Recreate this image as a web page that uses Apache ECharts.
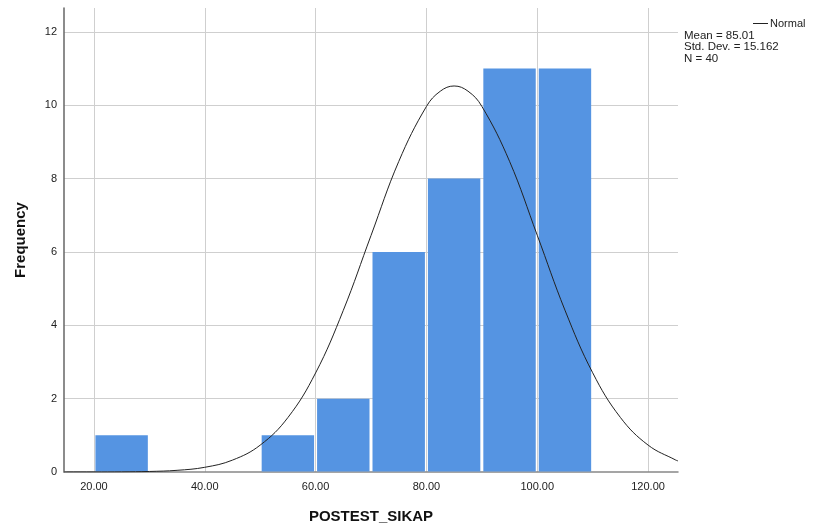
<!DOCTYPE html>
<html>
<head>
<meta charset="utf-8">
<script src="https://cdn.jsdelivr.net/npm/echarts@6/dist/echarts.min.js"></script>
<style>
html,body{margin:0;padding:0;background:#fff;}
#c{width:816px;height:529px;}
</style>
</head>
<body>
<div id="c"></div>
<script>
// Histogram bins (lower edge, upper edge) and counts
const binStart = [20, 50, 60, 70, 80, 90, 100];
const binEnd   = [30, 60, 70, 80, 90, 100, 110];
const counts   = [1, 1, 2, 6, 8, 11, 11];

// Normal curve points (x, expected frequency)
const curveX = [14.6, 15, 20, 25, 30, 35, 40, 45, 50, 55, 60, 65, 70, 75, 80, 82.5, 85, 87.5, 90, 95, 100, 105, 110, 115, 120, 125, 125.4];
const curveY = [0.0002, 0.0003, 0.0011, 0.0042, 0.0146, 0.0457, 0.128, 0.324, 0.732, 1.484, 2.700, 4.406, 6.447, 8.463, 9.965, 10.381, 10.524, 10.383, 9.969, 8.471, 6.455, 4.413, 2.706, 1.488, 0.734, 0.325, 0.303];

// Tick labels
const xTicks = [20, 40, 60, 80, 100, 120];
const yTicks = [0, 2, 4, 6, 8, 10, 12];

// Stats
const statMean = '85.01';
const statSd = '15.162';
const statN = '40';

const FONT = '"Liberation Sans", Arial, sans-serif';

const chart = echarts.init(document.getElementById('c'), null, {renderer: 'canvas'});

const barData = binStart.map((s, i) => [s, binEnd[i], counts[i]]);
const lineData = curveX.map((x, i) => [x, curveY[i]]);

chart.setOption({
  animation: false,
  backgroundColor: '#ffffff',
  textStyle: {fontFamily: FONT},
  grid: {left: 64, right: 138, top: 8, bottom: 57, containLabel: false},
  title: {
    text: 'Mean = ' + statMean + '\nStd. Dev. = ' + statSd + '\nN = ' + statN,
    left: 684, top: 30, padding: 0,
    textStyle: {fontFamily: FONT, fontSize: 11.5, fontWeight: 'normal', color: '#222', lineHeight: 11.5}
  },
  legend: {
    data: [{name: 'Normal', icon: 'rect'}],
    left: 753, top: 18, padding: 0,
    itemWidth: 15, itemHeight: 1, itemGap: 2,
    textStyle: {fontFamily: FONT, fontSize: 11, color: '#222', padding: [0, 0, 0, -3]}
  },
  xAxis: {
    type: 'value',
    min: 14.6, max: 125.4,
    name: 'POSTEST_SIKAP',
    nameLocation: 'middle',
    nameGap: 37,
    nameTextStyle: {fontFamily: FONT, fontSize: 15, fontWeight: 'bold', color: '#111'},
    axisLine: {show: true, lineStyle: {color: '#888', width: 1.5}},
    axisTick: {show: false, customValues: xTicks},
    axisLabel: {
      fontFamily: FONT, fontSize: 11, color: '#222', margin: 9,
      customValues: xTicks,
      formatter: v => Number(v).toFixed(2)
    },
    splitLine: {show: true, lineStyle: {color: '#cfcfcf', width: 1}}
  },
  yAxis: {
    type: 'value',
    min: 0, max: 12.65,
    interval: 2,
    name: 'Frequency',
    nameLocation: 'middle',
    nameGap: 36,
    nameTextStyle: {fontFamily: FONT, fontSize: 15, fontWeight: 'bold', color: '#111'},
    axisLine: {show: true, lineStyle: {color: '#666', width: 1.5}},
    axisTick: {show: false},
    axisLabel: {
      fontFamily: FONT, fontSize: 11, color: '#222', margin: 7,
      showMaxLabel: false,
      formatter: v => yTicks.includes(v) ? String(v) : ''
    },
    splitLine: {show: true, showMinLine: false, showMaxLine: false, lineStyle: {color: '#cfcfcf', width: 1}}
  },
  series: [
    {
      name: 'bars',
      type: 'custom',
      data: barData,
      encode: {x: [0, 1], y: 2},
      renderItem: function (params, api) {
        const p0 = api.coord([api.value(0), api.value(2)]);
        const p1 = api.coord([api.value(1), 0]);
        return {
          type: 'rect',
          shape: {x: p0[0] + 1.5, y: p0[1], width: p1[0] - p0[0] - 3, height: p1[1] - p0[1] - 0.5},
          style: {fill: '#5594e2'}
        };
      },
      z: 2
    },
    {
      name: 'Normal',
      type: 'line',
      data: lineData,
      smooth: 0.4,
      symbol: 'none',
      lineStyle: {color: '#222', width: 1},
      itemStyle: {color: '#222'},
      z: 3
    }
  ]
});
</script>
</body>
</html>
